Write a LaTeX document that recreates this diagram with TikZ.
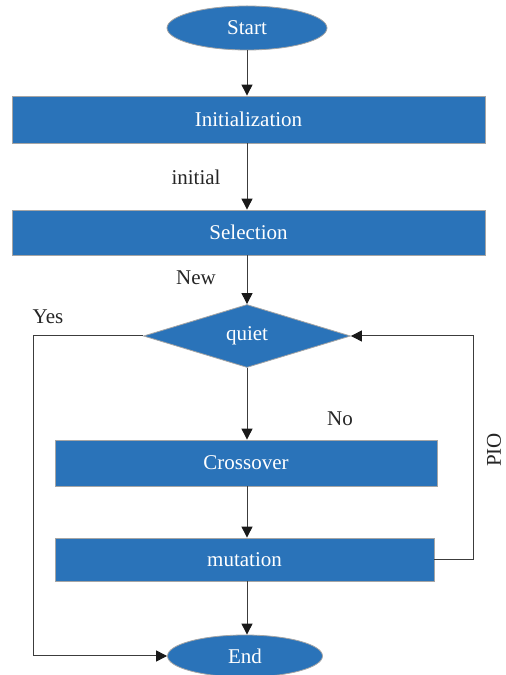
\documentclass[tikz,border=0pt]{standalone}
\usepackage{fontspec}
\setmainfont{Liberation Serif}
\usetikzlibrary{arrows.meta}
\usetikzlibrary{positioning}
\usetikzlibrary{shapes.geometric}

\definecolor{boxblue}{RGB}{42,115,185}
\definecolor{rimgrey}{RGB}{165,165,165}
\definecolor{linegrey}{RGB}{60,60,60}

\tikzset{
  blk/.style={rectangle,fill=boxblue,draw=rimgrey,line width=0.8pt,
    text=white,font=\fontsize{21}{23}\selectfont,inner sep=0pt},
  term/.style={ellipse,fill=boxblue,draw=rimgrey,line width=0.8pt,
    text=white,font=\fontsize{21}{23}\selectfont,inner sep=0pt},
  test/.style={diamond,fill=boxblue,draw=rimgrey,line width=0.8pt,
    text=white,font=\fontsize{21}{23}\selectfont,inner sep=0pt},
  lbl/.style={text=black!85,font=\fontsize{21}{23}\selectfont,inner sep=0pt},
  flow/.style={linegrey,line width=1pt,
    -{Triangle[width=11pt,length=11pt,color=black!90]}}
}

\begin{document}
\begin{tikzpicture}[x=1pt,y=1pt]
  \useasboundingbox (0,0) rectangle (506,675);

  % boxes, top to bottom
  \node[term,minimum width=160pt,minimum height=44pt] (start) at (247,647) {Start};
  \node[blk,minimum width=473pt,minimum height=47pt] (init) at (248.5,555.5) {Initialization};
  \node[blk,minimum width=473pt,minimum height=45pt] (sel) at (248.5,442.5) {Selection};
  \node[test,minimum width=207pt,minimum height=63pt] (quiet) at (247,339) {quiet};
  \node[blk,minimum width=382pt,minimum height=46pt] (cross) at (246,212) {Crossover};
  \node[blk,minimum width=379pt,minimum height=43pt] (mut) at (244.5,115.5) {mutation};
  \node[term,minimum width=155pt,minimum height=42pt] (end) at (245,19) {End};

  % bends of the two loops
  \coordinate (yesc) at (33,339);
  \coordinate (pioc) at (473,339);

  \path[flow]
  (start) edge (start |- init.north)
  (init.south -| start) edge (start |- sel.north)
  (sel.south -| start) edge (quiet.north)
  (quiet.south) edge (quiet |- cross.north)
  (cross.south -| quiet) edge (quiet |- mut.north)
  (mut.south -| quiet) edge (quiet |- end.north);
  \draw[flow] (quiet.west) -- (yesc) |- (end.west);
  \draw[flow] (mut.east) -| (pioc) -- (quiet.east);

  % labels
  \node[lbl] (linit) at (196,498) {initial};
  \node[lbl] (lnew) at (196,397) {New};
  \node[lbl] (lyes) at (48,358) {Yes};
  \node[lbl] (lno) at (340,256) {No};
  \node[lbl,rotate=90] (lpio) at (494,225) {PIO};
\end{tikzpicture}
\end{document}
